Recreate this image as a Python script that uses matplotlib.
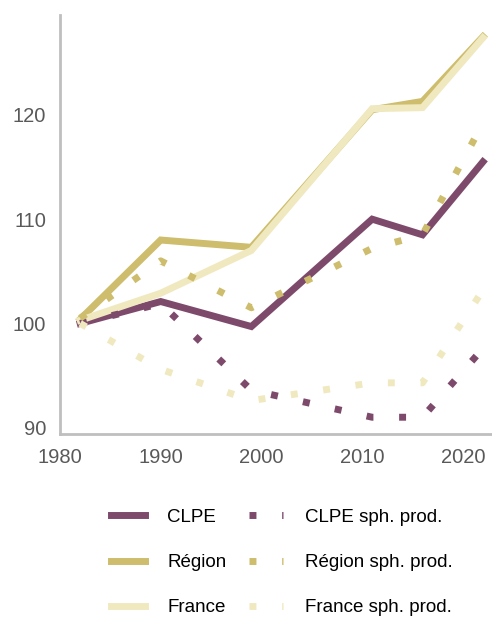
# Indice d'évolution (base 100) : CLPE, Région, France, total et sphère productive

import matplotlib.pyplot as plt

plt.rcParams['font.family'] = ['Liberation Sans', 'DejaVu Sans']

# Data
years = [1982, 1990, 1999, 2011, 2016, 2022]
clpe = [100.0, 102.1, 99.7, 110.0, 108.5, 115.5]
region = [100.4, 108.0, 107.3, 120.5, 121.3, 127.5]
france = [100.3, 102.9, 107.0, 120.6, 120.7, 127.4]
clpe_sp = [100.0, 101.9, 93.6, 91.0, 91.0, 97.6]
region_sp = [100.5, 106.0, 101.5, 107.2, 108.5, 119.2]
france_sp = [100.0, 95.6, 92.6, 94.3, 94.3, 103.2]

xticks = [1980, 1990, 2000, 2010, 2020]
yticks = [90, 100, 110, 120]

c_clpe = '#7e4a6c'
c_region = '#cdbd6c'
c_france = '#f0e9c0'

fig = plt.figure(figsize=(4.92, 6.19), dpi=100)
ax = fig.add_axes([0.122, 0.299, 0.878, 0.677])

lw = 5
dots = (1, 3.7)

ax.plot(years, clpe, color=c_clpe, lw=lw, label='CLPE', solid_joinstyle='miter')
ax.plot(years, region, color=c_region, lw=lw, label='Région', solid_joinstyle='miter')
ax.plot(years, france, color=c_france, lw=lw, label='France', solid_joinstyle='miter')
ax.plot(years, clpe_sp, color=c_clpe, lw=lw, dashes=dots, label='CLPE sph. prod.')
ax.plot(years, region_sp, color=c_region, lw=lw, dashes=dots, label='Région sph. prod.')
ax.plot(years, france_sp, color=c_france, lw=lw, dashes=dots, label='France sph. prod.')

ax.set_xlim(1980, 2022.9)
ax.set_ylim(89.4, 129.6)
ax.set_xticks(xticks)
ax.set_yticks(yticks)
ax.tick_params(length=0, labelsize=14.5, colors='#595959')
ax.tick_params(axis='y', pad=10)
ax.tick_params(axis='x', pad=10)

for side in ['top', 'right']:
    ax.spines[side].set_visible(False)
for side in ['left', 'bottom']:
    ax.spines[side].set_color('#bfbfbf')
    ax.spines[side].set_linewidth(2)

fig.legend(loc='upper left', bbox_to_anchor=(0.2256, 0.178), ncol=2, frameon=False,
           fontsize=13.5, handlelength=1.8, handletextpad=1.2, columnspacing=1.2,
           labelspacing=1.5, borderaxespad=0, borderpad=0)

fig.savefig('out.png', dpi=100)
